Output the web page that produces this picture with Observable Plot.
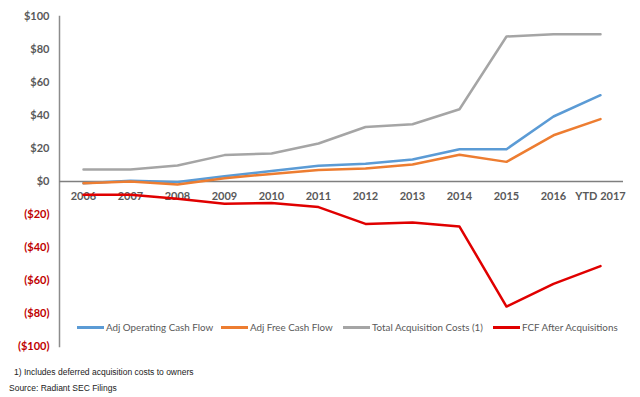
<!DOCTYPE html>
<html>
<head>
<meta charset="utf-8">
<script src="https://cdn.jsdelivr.net/npm/d3@7"></script>
<script src="https://cdn.jsdelivr.net/npm/@observablehq/plot@0.6"></script>
<style>
  html, body { margin: 0; padding: 0; background: #fff; }
  #wrap { position: relative; width: 640px; height: 397px; overflow: hidden; }
  .legend { position: absolute; top: 321px; left: 0; width: 640px; height: 14px; font-family: Lato, "Open Sans", sans-serif; font-size: 9.8px; color: #595959; }
  .legend .item { position: absolute; top: 0; display: flex; align-items: center; white-space: nowrap; }
  .legend .sw { display: inline-block; width: 27px; height: 3px; margin-right: 2px; }
  .note { position: absolute; font-family: "Liberation Sans", Arial, sans-serif; font-size: 8.5px; color: #222; white-space: nowrap; }
</style>
</head>
<body>
<div id="wrap"></div>
<script>
const years = ["2006","2007","2008","2009","2010","2011","2012","2013","2014","2015","2016","YTD 2017"];
const adjOperatingCF = [-1, 0.5, -0.3, 3.2, 6.3, 9.5, 10.7, 13.3, 19.6, 19.6, 39.4, 52.3];
const adjFreeCF      = [-1, 0, -1.8, 2, 4.6, 7, 7.9, 10.3, 16.2, 11.9, 28, 37.8];
const totalAcqCosts  = [7.3, 7.3, 9.7, 16, 17, 23, 33, 34.7, 43.8, 87.9, 89.3, 89.3];
const fcfAfterAcq    = [-8, -8, -10.5, -13.5, -13.1, -15.5, -25.7, -24.8, -27.3, -75.8, -62, -51.3];
const posTicks = [0, 20, 40, 60, 80, 100];
const negTicks = [-20, -40, -60, -80, -100];
const seriesNames = ["Adj Operating Cash Flow", "Adj Free Cash Flow", "Total Acquisition Costs (1)", "FCF After Acquisitions"];
const seriesColors = ["#5b9bd5", "#ed7d31", "#a5a5a5", "#e00000"];

const rows = (vals) => years.map((y, i) => ({year: y, v: vals[i]}));
const fmt = d => d < 0 ? `($${-d})` : `$${d}`;
const font = "Lato, 'Open Sans', sans-serif";

const chart = Plot.plot({
  width: 640,
  height: 362,
  marginTop: 16,
  marginBottom: 16,
  marginLeft: 59,
  marginRight: 17,
  style: {fontFamily: font, background: "#fff"},
  x: {type: "point", domain: years, padding: 0.5, axis: null},
  y: {domain: [-100, 100], axis: null},
  marks: [
    Plot.frame({anchor: "left", stroke: "#8c8c8c", strokeWidth: 1.5}),
    Plot.ruleY([0], {stroke: "#7f7f7f", strokeWidth: 1.5}),
    Plot.axisY({ticks: posTicks, tickFormat: fmt, tickSize: 0, tickPadding: 10, label: null, fill: "#595959", fontWeight: "bold", fontSize: 11}),
    Plot.axisY({ticks: negTicks, tickFormat: fmt, tickSize: 0, tickPadding: 10, label: null, fill: "#c00000", fontWeight: "bold", fontSize: 11}),
    Plot.text(years, {x: d => d, y: () => 0, dy: 15, text: d => d, fill: "#595959", fontWeight: "bold", fontSize: 11}),
    Plot.line(rows(totalAcqCosts), {x: "year", y: "v", stroke: seriesColors[2], strokeWidth: 2.5}),
    Plot.line(rows(adjOperatingCF), {x: "year", y: "v", stroke: seriesColors[0], strokeWidth: 2.5}),
    Plot.line(rows(adjFreeCF), {x: "year", y: "v", stroke: seriesColors[1], strokeWidth: 2.5}),
    Plot.line(rows(fcfAfterAcq), {x: "year", y: "v", stroke: seriesColors[3], strokeWidth: 2.5})
  ]
});

const wrap = document.getElementById("wrap");
wrap.appendChild(chart);

const legendX = [77, 221, 343, 493];
const legend = document.createElement("div");
legend.className = "legend";
seriesNames.forEach((name, i) => {
  const it = document.createElement("div");
  it.className = "item";
  it.style.left = legendX[i] + "px";
  const sw = document.createElement("span");
  sw.className = "sw";
  sw.style.background = seriesColors[i];
  it.appendChild(sw);
  it.appendChild(document.createTextNode(name));
  legend.appendChild(it);
});
wrap.appendChild(legend);

const notes = [["1) Includes deferred acquisition costs to owners", 14, 367], ["Source: Radiant SEC Filings", 9, 383]];
notes.forEach(([t, x, y]) => {
  const d = document.createElement("div");
  d.className = "note";
  d.style.left = x + "px";
  d.style.top = y + "px";
  d.textContent = t;
  wrap.appendChild(d);
});
</script>
</body>
</html>
